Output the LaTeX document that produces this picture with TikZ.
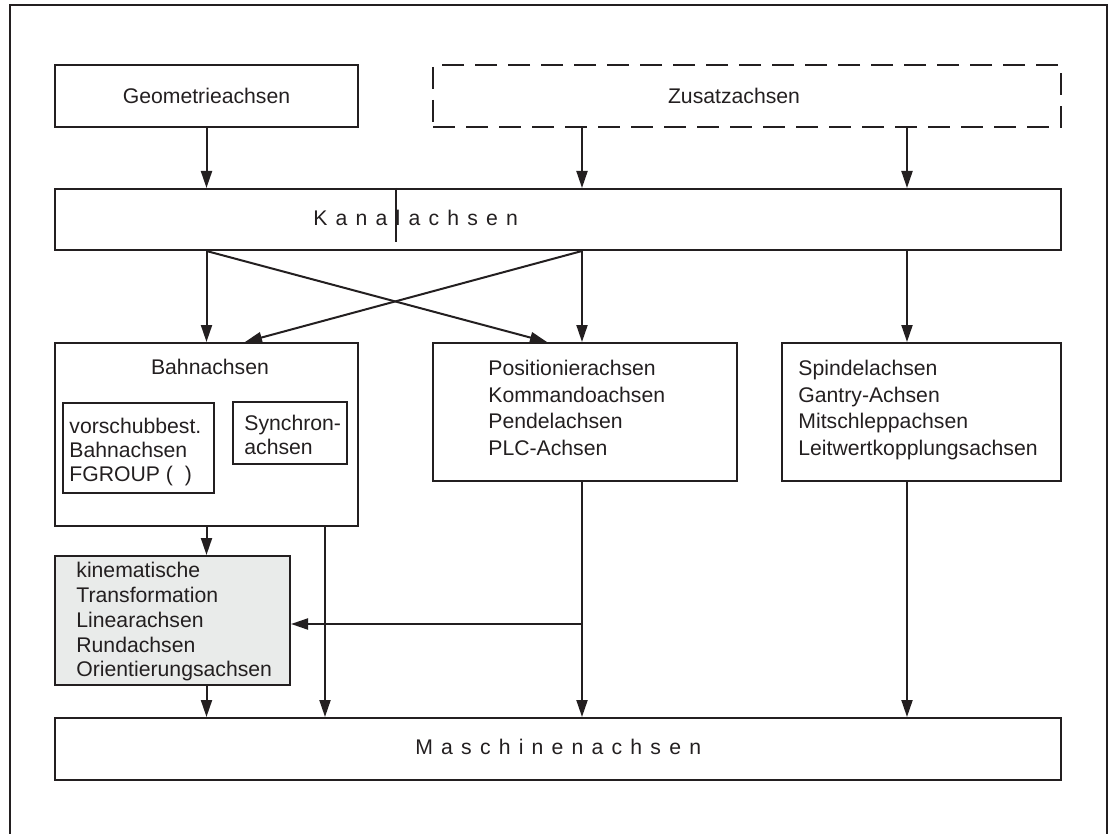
\documentclass[tikz,border=0pt]{standalone}
\usepackage{fontspec}
\setmainfont{Liberation Sans}
\usetikzlibrary{arrows.meta}
\definecolor{ink}{HTML}{231F20}
\definecolor{kinfill}{HTML}{E9EBEA}
\makeatletter
\newcommand\sperrsatz[1]{\@tfor\sp@z:=#1\do{\sp@z\kern4.1pt}}
\makeatother

\begin{document}
\begin{tikzpicture}[x=0.5pt,y=-0.5pt,line join=miter,
  box/.style={draw=ink,line width=1pt,inner sep=0pt,text=ink,font=\fontsize{10.6}{13}\selectfont},
  txt/.style={text=ink,inner sep=0pt,font=\fontsize{10.6}{13}\selectfont},
  arr/.style={-{Triangle[length=8.5pt,width=5.5pt]},line width=1pt,ink},
  lin/.style={line width=1pt,ink}]
  \useasboundingbox (0,0) rectangle (1113,834);

  % ---- frame (open at the bottom) ----
  \draw[lin] (10,834) -- (10,5) -- (1107,5) -- (1107,834);

  % ---- columns of the connectors ----
  \coordinate (colB) at (582,0);
  \coordinate (colC) at (907,0);
  \coordinate (colD) at (325,0);
  \coordinate (crossB) at (245,0);
  \coordinate (crossP) at (547,0);
  \coordinate (tap) at (582,624);
  \coordinate (cursor) at (396,242);

  % ---- top row ----
  \node[box,minimum width=151.5pt,minimum height=31pt] (geo) at (206.5,96) {Geometrieachsen};
  \node[box,dash pattern=on 11pt off 5.5pt,minimum width=314pt,minimum height=31pt] (zus) at (747,96) {};
  \node[txt] (zustxt) at (734,96) {Zusatzachsen};

  % ---- Kanalachsen ----
  \node[box,minimum width=503pt,minimum height=30.5pt] (kanal) at (558,219.5) {};
  \node[txt,anchor=west] (kanaltxt) at (313,218) {\sperrsatz{Kanalachsen}};
  \draw[lin] (cursor |- kanal.north) -- (cursor);

  % ---- Bahnachsen ----
  \node[box,minimum width=151.5pt,minimum height=91.5pt] (bahn) at (206.5,434.5) {};
  \node[txt] (bahntxt) at (210,367) {Bahnachsen};
  \node[box,minimum width=75.5pt,minimum height=45pt] (vor) at (138.5,448) {};
  \node[txt,anchor=north west,align=left,font=\fontsize{10.6}{11.9}\selectfont] (vortxt) at (69,418)
    {vorschubbest.\\Bahnachsen\\FGROUP (\ \ )};
  \node[box,minimum width=57pt,minimum height=31pt] (syn) at (290,433) {};
  \node[txt,anchor=north west,align=left,font=\fontsize{10.6}{12}\selectfont] (syntxt) at (244,415)
    {Synchron-\\achsen};

  % ---- Positionierachsen / Spindelachsen ----
  \node[box,minimum width=152pt,minimum height=69pt] (pos) at (585,412) {};
  \node[txt,anchor=north west,align=left,font=\fontsize{10.6}{13.3}\selectfont] (postxt) at (488,360)
    {Positionierachsen\\Kommandoachsen\\Pendelachsen\\PLC-Achsen};
  \node[box,minimum width=139.5pt,minimum height=69pt] (spi) at (921.5,412) {};
  \node[txt,anchor=north west,align=left,font=\fontsize{10.6}{13.3}\selectfont] (spitxt) at (798,360)
    {Spindelachsen\\Gantry-Achsen\\Mitschleppachsen\\Leitwertkopplungsachsen};

  % ---- kinematische Transformation ----
  \node[box,fill=kinfill,minimum width=117.5pt,minimum height=64.5pt] (kin) at (172.5,620.5) {};
  \node[txt,anchor=north west,align=left,font=\fontsize{10.6}{12.4}\selectfont] (kintxt) at (76,562)
    {kinematische\\Transformation\\Linearachsen\\Rundachsen\\Orientierungsachsen};

  % ---- Maschinenachsen ----
  \node[box,minimum width=503pt,minimum height=31pt] (masch) at (558,749) {};
  \node[txt,anchor=west] (maschtxt) at (415,747) {\sperrsatz{Maschinenachsen}};

  % ---- connectors ----
  \draw[arr] (geo.south) -- (kanal.north -| geo);
  \draw[arr] (zus.south -| colB) -- (kanal.north -| colB);
  \draw[arr] (zus.south -| colC) -- (kanal.north -| colC);
  \draw[arr] (kanal.south -| geo) -- (bahn.north -| geo);
  \draw[arr] (kanal.south -| colB) -- (pos.north -| colB);
  \draw[arr] (kanal.south -| colC) -- (spi.north -| colC);
  \draw[arr] (kanal.south -| geo) -- (pos.north -| crossP);
  \draw[arr] (kanal.south -| colB) -- (bahn.north -| crossB);
  \draw[arr] (bahn.south -| geo) -- (kin.north -| geo);
  \draw[arr] (kin.south -| geo) -- (masch.north -| geo);
  \draw[arr] (bahn.south -| colD) -- (masch.north -| colD);
  \draw[arr] (pos.south -| colB) -- (masch.north -| colB);
  \draw[arr] (tap) -- (tap -| kin.east);
  \draw[arr] (spi.south -| colC) -- (masch.north -| colC);
\end{tikzpicture}
\end{document}
